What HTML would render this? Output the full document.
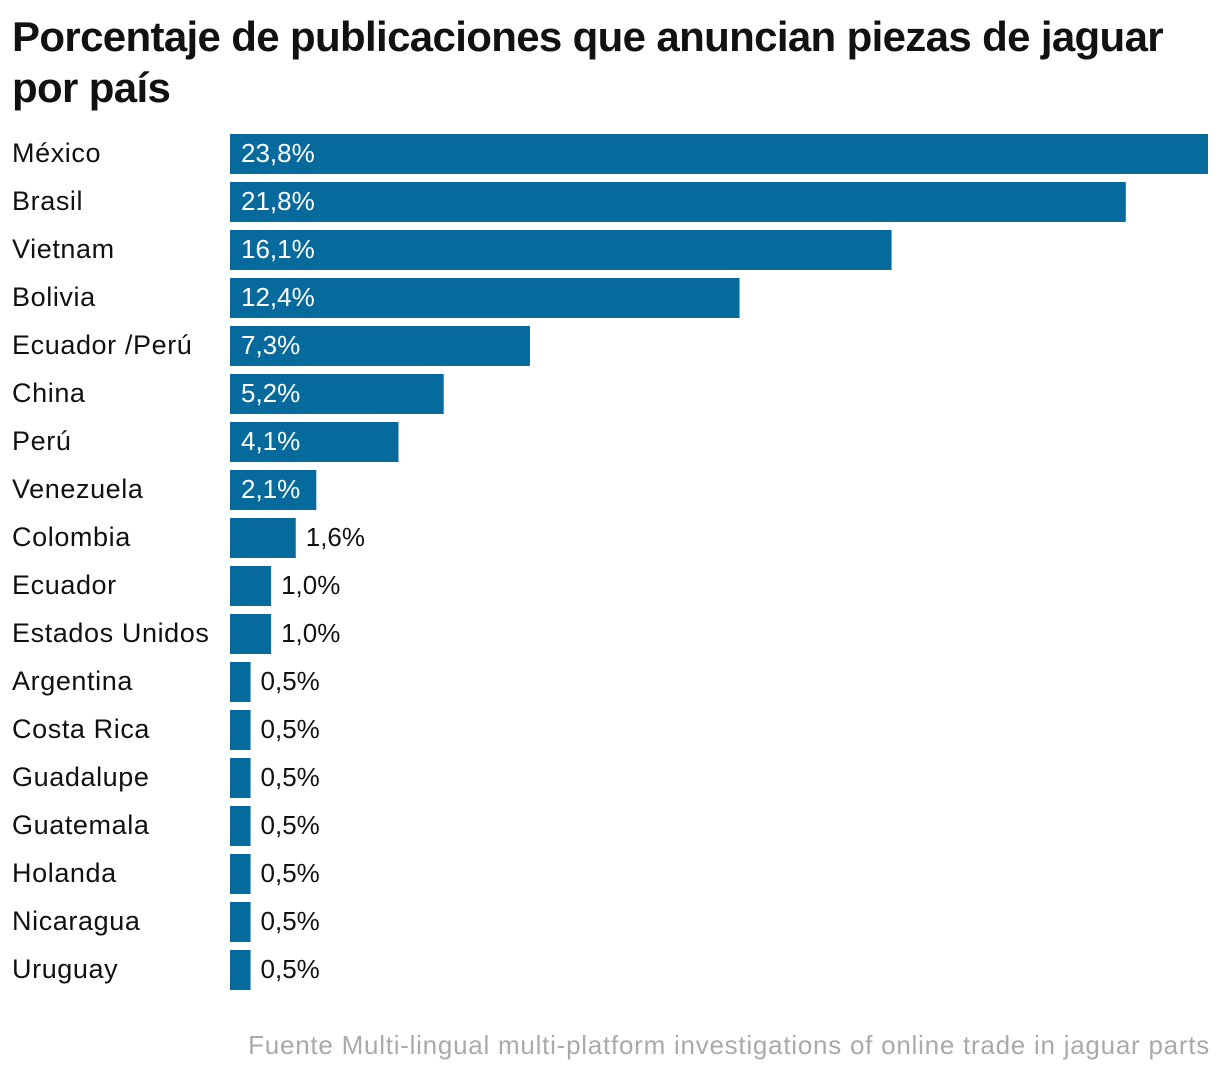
<!DOCTYPE html>
<html><head><meta charset="utf-8">
<style>
html,body{margin:0;padding:0;background:#fff;width:1220px;height:1074px;overflow:hidden;font-family:"Liberation Sans",sans-serif;}
#title{position:absolute;left:12px;top:11px;width:1200px;font-weight:bold;font-size:42px;line-height:51px;color:#111;letter-spacing:-0.65px;}
#source{position:absolute;right:10px;top:1030px;font-size:26px;letter-spacing:0.75px;color:#aaa;white-space:nowrap;}
svg{position:absolute;left:0;top:0;}
</style></head>
<body>
<div id="title">Porcentaje de publicaciones que anuncian piezas de jaguar por país</div>
<svg id="chart" width="1220" height="1074"></svg>
<div id="source">Fuente Multi-lingual multi-platform investigations of online trade in jaguar parts</div>
<script>
const categories = ["México","Brasil","Vietnam","Bolivia","Ecuador /Perú","China","Perú","Venezuela","Colombia","Ecuador","Estados Unidos","Argentina","Costa Rica","Guadalupe","Guatemala","Holanda","Nicaragua","Uruguay"];
const values = [23.8,21.8,16.1,12.4,7.3,5.2,4.1,2.1,1.6,1.0,1.0,0.5,0.5,0.5,0.5,0.5,0.5,0.5];
const valueLabels = ["23,8%","21,8%","16,1%","12,4%","7,3%","5,2%","4,1%","2,1%","1,6%","1,0%","1,0%","0,5%","0,5%","0,5%","0,5%","0,5%","0,5%","0,5%"];

const svg = document.getElementById('chart');
const NS = 'http://www.w3.org/2000/svg';
const x0 = 230, x1 = 1208, maxV = 23.8;
const y0 = 134, step = 48, barH = 40;
const xScale = v => (v / maxV) * (x1 - x0);
const yScale = i => y0 + i * step;

categories.forEach((c, i) => {
  const y = yScale(i);
  const w = xScale(values[i]);
  const lab = document.createElementNS(NS, 'text');
  
  
  lab.setAttribute('x', 12); lab.setAttribute('y', y + 28);
  lab.setAttribute('font-size', '27'); lab.setAttribute('letter-spacing', '0.6'); lab.setAttribute('fill', '#111');
  lab.textContent = c;
  svg.appendChild(lab);
  const r = document.createElementNS(NS, 'rect');
  
  
  r.setAttribute('x', x0); r.setAttribute('y', y);
  r.setAttribute('width', w); r.setAttribute('height', barH);
  r.setAttribute('fill', '#066a9c');
  svg.appendChild(r);
  const inside = values[i] >= 2;
  const t = document.createElementNS(NS, 'text');
  
  
  t.setAttribute('x', inside ? x0 + 11 : x0 + w + 10);
  t.setAttribute('y', y + 28);
  t.setAttribute('font-size', '26');
  t.setAttribute('fill', inside ? '#fff' : '#111');
  t.textContent = valueLabels[i];
  svg.appendChild(t);
});
</script>
</body></html>
